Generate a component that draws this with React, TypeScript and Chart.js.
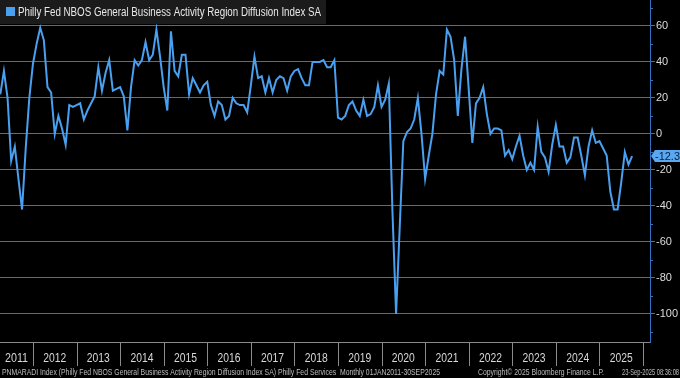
import React, { useEffect, useRef } from "react";
import { Chart, registerables } from "chart.js";

Chart.register(...registerables);

// Month index of the first visible observation (0 = Jan 2011) -> Mar 2011
const FIRST_MONTH_INDEX = 2;

// Monthly values, Mar 2011 .. Sep 2025
const values: number[] = [
  // 2011 (Mar-Dec)
  22, 35, 20, -15, -7, -25, -42, -8, 20, 39,
  // 2012
  50, 59, 52, 26, 23, 0, 10, 3, -6, 16, 15, 16,
  // 2013
  17, 8, 13, 17, 21, 37, 24, 34, 41, 24, 25, 26,
  // 2014
  21, 2, 26, 41, 38, 41, 51, 41, 44, 58, 43, 26,
  // 2015
  13, 57, 35, 32, 44, 44, 22, 31, 27, 23, 27, 29,
  // 2016
  16, 10, 18, 16, 8, 10, 20, 17, 16, 16, 12, 27,
  // 2017
  43, 31, 32, 23, 31, 23, 30, 32, 31, 24, 32, 35,
  // 2018
  36, 31, 27, 27, 40, 40, 40, 41, 37, 37, 41, 9,
  // 2019
  8, 10, 16, 18, 13, 10, 19, 10, 11, 15, 27, 15,
  // 2020
  19, 28, -43, -100, -52, -4, 1, 3, 8, 20, 0, -25,
  // 2021
  -12, 0, 22, 35, 33, 58, 54, 41, 10, 36, 54, 25,
  // 2022
  -5, 17, 20, 26, 11, 0, 3, 3, 2, -12, -9, -14,
  // 2023
  -7, -1, -12, -20, -16, -20, 4, -10, -13, -21, -6, 5,
  // 2024
  -7, -7, -16, -13, -2, -2, -12, -23, -7, 2, -5, -4,
  // 2025 (Jan-Sep)
  -8, -12, -32, -42, -42, -27, -10, -17, -12.3,
];

const years: string[] = [
  "2011", "2012", "2013", "2014", "2015", "2016", "2017", "2018",
  "2019", "2020", "2021", "2022", "2023", "2024", "2025",
];

const majorTicks: number[] = [60, 40, 20, 0, -20, -40, -60, -80, -100];
const minorTicks: number[] = [70, 50, 30, 10, -10, -30, -50, -70, -90, -110];

const seriesLabel = "Philly Fed NBOS General Business Activity Region Diffusion Index SA";
const footerLeft =
  "PNMARADI Index (Philly Fed NBOS General Business Activity Region Diffusion Index SA) Philly Fed Services  Monthly 01JAN2011-30SEP2025";
const footerMid = "Copyright\u00A9 2025 Bloomberg Finance L.P.";
const footerRight = "23-Sep-2025 08:36:08";

const LINE_BLUE = "#4aa0f0";
const AXIS_BLUE = "#3272c0";
const FONT = "'Liberation Sans', Arial, sans-serif";

const decorPlugin = {
  id: "bbgDecor",
  beforeDraw(chart: any) {
    const { ctx, width, height } = chart;
    ctx.save();
    ctx.fillStyle = "#000";
    ctx.fillRect(0, 0, width, height);
    ctx.restore();
  },
  afterDraw(chart: any) {
    const { ctx, chartArea } = chart;
    const xs = chart.scales.x;
    const ys = chart.scales.y;
    const left = chartArea.left;
    const right = chartArea.right;
    const bottom = chartArea.bottom;
    ctx.save();

    // bottom axis line
    ctx.strokeStyle = "#8a8a8a";
    ctx.lineWidth = 1;
    ctx.beginPath();
    ctx.moveTo(left, Math.round(bottom) + 0.5);
    ctx.lineTo(right, Math.round(bottom) + 0.5);
    ctx.stroke();

    // year separators and labels
    ctx.font = `12px ${FONT}`;
    ctx.fillStyle = "#d8d8d8";
    ctx.textAlign = "center";
    ctx.textBaseline = "middle";
    for (let k = 0; k < years.length; k++) {
      const a = xs.getPixelForValue(12 * k);
      const b = xs.getPixelForValue(12 * (k + 1));
      if (b >= left && b <= right + 1) {
        ctx.strokeStyle = "#8a8a8a";
        ctx.beginPath();
        ctx.moveTo(Math.round(b) + 0.5, bottom);
        ctx.lineTo(Math.round(b) + 0.5, bottom + 24);
        ctx.stroke();
      }
      const s = Math.max(left, a);
      const e = Math.min(right, b);
      ctx.fillText(years[k], (s + e) / 2, bottom + 17, 23);
    }

    // minor ticks on right axis
    ctx.strokeStyle = AXIS_BLUE;
    for (const v of minorTicks) {
      const y = ys.getPixelForValue(v);
      if (y < chartArea.top || y > bottom) continue;
      ctx.beginPath();
      ctx.moveTo(right, Math.round(y) + 0.5);
      ctx.lineTo(right + 3, Math.round(y) + 0.5);
      ctx.stroke();
    }

    // footer
    ctx.font = `9px ${FONT}`;
    ctx.fillStyle = "#bdbdbd";
    ctx.textAlign = "left";
    ctx.textBaseline = "middle";
    ctx.fillText(footerLeft, 2, bottom + 30.5, 438);
    ctx.fillText(footerMid, 478, bottom + 30.5, 126);
    ctx.fillText(footerRight, 622, bottom + 30.5, 57);

    // legend box
    ctx.fillStyle = "#1b1b1b";
    ctx.fillRect(0, 0, 326, 24);
    ctx.fillStyle = LINE_BLUE;
    ctx.fillRect(6, 7, 9, 9);
    ctx.font = `12px ${FONT}`;
    ctx.fillStyle = "#e8e8e8";
    ctx.textBaseline = "middle";
    ctx.fillText(seriesLabel, 18, 12.5, 303);

    // last value tag
    const last = values[values.length - 1];
    const ty = ys.getPixelForValue(last);
    ctx.fillStyle = "#5aa8f2";
    ctx.beginPath();
    ctx.moveTo(right + 1, ty);
    ctx.lineTo(right + 5, ty - 6);
    ctx.lineTo(chart.width, ty - 6);
    ctx.lineTo(chart.width, ty + 6);
    ctx.lineTo(right + 5, ty + 6);
    ctx.closePath();
    ctx.fill();
    ctx.font = `11px ${FONT}`;
    ctx.fillStyle = "#0b1d3a";
    ctx.textAlign = "left";
    ctx.fillText(last.toFixed(1), right + 5, ty + 0.5, 25);

    ctx.restore();
  },
};

export default function App() {
  const canvasRef = useRef<HTMLCanvasElement | null>(null);

  useEffect(() => {
    document.body.style.margin = "0";
    document.body.style.background = "#000";
    const canvas = canvasRef.current;
    if (!canvas) return;
    const points = values.map((v, k) => ({ x: FIRST_MONTH_INDEX + k + 1, y: v }));
    const chart = new Chart(canvas, {
      type: "line",
      data: {
        datasets: [
          {
            label: seriesLabel,
            data: points,
            borderColor: LINE_BLUE,
            borderWidth: 2,
            pointRadius: 0,
            tension: 0,
            fill: false,
          },
        ],
      },
      options: {
        animation: false,
        responsive: false,
        devicePixelRatio: 1,
        layout: { padding: { left: 0, right: 0, top: 0, bottom: 36 } },
        plugins: { legend: { display: false }, tooltip: { enabled: false } },
        scales: {
          x: {
            type: "linear",
            min: 2.92,
            max: 181.93,
            display: false,
          },
          y: {
            type: "linear",
            position: "right",
            min: -115.6,
            max: 74.4,
            afterBuildTicks: (s: any) => {
              s.ticks = majorTicks.map((v) => ({ value: v }));
            },
            afterFit: (s: any) => {
              s.width = 30;
              s.paddingTop = 0;
              s.paddingBottom = 0;
            },
            grid: {
              color: "#6a6a6a",
              lineWidth: 1,
              drawTicks: true,
              tickLength: 5,
              tickColor: AXIS_BLUE,
            },
            border: { display: true, color: AXIS_BLUE, width: 1 },
            ticks: {
              color: "#dcdcdc",
              padding: 1,
              font: { size: 11, family: FONT },
              callback: (v: any) => String(v),
            },
          },
        },
      },
      plugins: [decorPlugin],
    });
    return () => chart.destroy();
  }, []);

  return (
    <div style={{ position: "absolute", left: 0, top: 0, width: 680, height: 378, background: "#000" }}>
      <canvas ref={canvasRef} width={680} height={378} style={{ display: "block" }} />
    </div>
  );
}
